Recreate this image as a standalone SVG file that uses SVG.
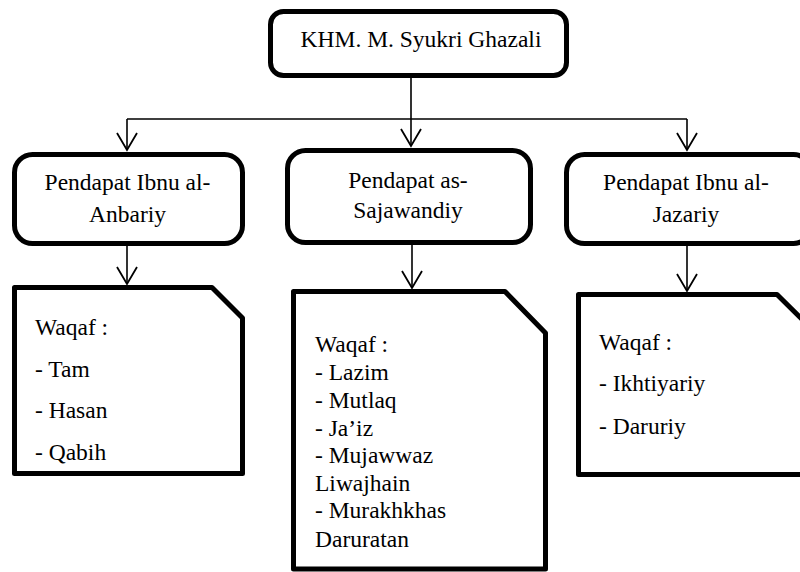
<svg xmlns="http://www.w3.org/2000/svg" width="800" height="572" viewBox="0 0 800 572">
<style>
.box{fill:#fff;stroke:#000;stroke-width:5;stroke-linejoin:round}
.ln{fill:none;stroke:#000;stroke-width:1.6}
text{font-family:"Liberation Serif",Tinos,"Times New Roman",Times,"DejaVu Serif",serif;font-size:23.5px;fill:#000}
.c{text-anchor:middle}
</style>
<defs>
<marker id="ah" markerUnits="userSpaceOnUse" markerWidth="22" markerHeight="24" viewBox="-20 -12 22 24" refX="0" refY="0" orient="auto">
<path d="M-17,-10 L0,0 L-17,10" fill="none" stroke="#000" stroke-width="1.8"/>
</marker>
</defs>
<rect width="800" height="572" fill="#fff"/>
<g id="connectors">
<path class="ln" d="M411,78 V119 M127,119 H687"/>
<path class="ln" d="M127,119 V150" marker-end="url(#ah)"/>
<path class="ln" d="M411,119 V146" marker-end="url(#ah)"/>
<path class="ln" d="M687,119 V150" marker-end="url(#ah)"/>
<path class="ln" d="M127,246 V284" marker-end="url(#ah)"/>
<path class="ln" d="M412,245 V288" marker-end="url(#ah)"/>
<path class="ln" d="M687,246 V291" marker-end="url(#ah)"/>
</g>
<g id="root">
<rect class="box" x="270.5" y="11.5" width="296" height="64" rx="13"/>
<text class="c" x="421" y="47">KHM. M. Syukri Ghazali</text>
</g>
<g id="anbariy">
<rect class="box" x="14.5" y="154.5" width="228" height="89" rx="18"/>
<text class="c" x="127.5" y="190">Pendapat Ibnu al-</text>
<text class="c" x="127.5" y="222">Anbariy</text>
</g>
<g id="sajawandiy">
<rect class="box" x="287.5" y="150.5" width="243" height="92" rx="18"/>
<text class="c" x="408" y="188">Pendapat as-</text>
<text class="c" x="408" y="218">Sajawandiy</text>
</g>
<g id="jazariy">
<rect class="box" x="566.5" y="154.5" width="245" height="89" rx="18"/>
<text class="c" x="686" y="190">Pendapat Ibnu al-</text>
<text class="c" x="686" y="222">Jazariy</text>
</g>
<g id="waqaf-anbariy">
<path class="box" d="M14.5,287.5 H212 L242.5,318 V473.5 H14.5 Z"/>
<text x="35" y="335">Waqaf :</text>
<text x="35" y="377">- Tam</text>
<text x="35" y="418">- Hasan</text>
<text x="35" y="460">- Qabih</text>
</g>
<g id="waqaf-sajawandiy">
<path class="box" d="M293.5,291.5 H505 L545.5,333 V569 H293.5 Z"/>
<text x="315" y="352">Waqaf :</text>
<text x="315" y="380">- Lazim</text>
<text x="315" y="408">- Mutlaq</text>
<text x="315" y="436">- Ja’iz</text>
<text x="315" y="463">- Mujawwaz</text>
<text x="315" y="491">Liwajhain</text>
<text x="315" y="518">- Murakhkhas</text>
<text x="315" y="547">Daruratan</text>
</g>
<g id="waqaf-jazariy">
<path class="box" d="M578.5,294.5 H777 L810,327 V474.5 H578.5 Z"/>
<text x="599" y="350">Waqaf :</text>
<text x="599" y="391">- Ikhtiyariy</text>
<text x="599" y="434">- Daruriy</text>
</g>
</svg>
